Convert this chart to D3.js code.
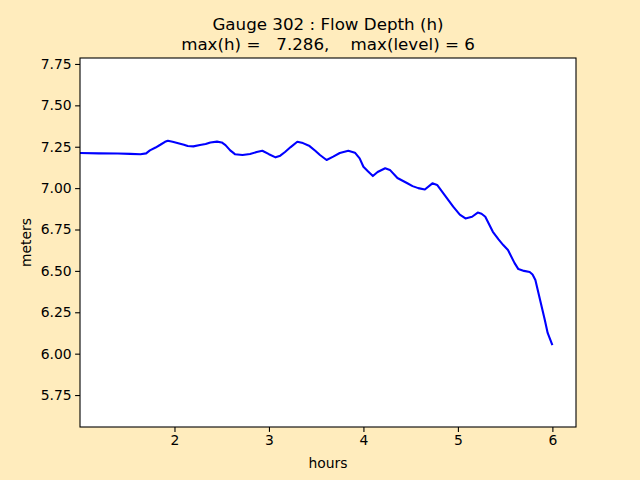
<!DOCTYPE html>
<html>
<head>
<meta charset="utf-8">
<script src="https://cdn.jsdelivr.net/npm/d3@7"></script>
<style>
  html, body { margin: 0; padding: 0; background: #ffecbd; }
  svg { display: block; }
  text { font-family: "DejaVu Sans", sans-serif; fill: #000; }
</style>
</head>
<body>
<svg id="chart" width="640" height="480"></svg>
<script>
// ---- data ----
const hours = [1.00, 1.20, 1.40, 1.53, 1.64, 1.70, 1.74, 1.80, 1.85, 1.90, 1.93, 1.98, 2.04, 2.10, 2.14, 2.20, 2.27, 2.33, 2.38, 2.45, 2.50, 2.54, 2.59, 2.64, 2.72, 2.80, 2.87, 2.93, 3.00, 3.07, 3.12, 3.17, 3.23, 3.30, 3.36, 3.43, 3.49, 3.54, 3.61, 3.68, 3.75, 3.84, 3.91, 3.96, 4.00, 4.05, 4.10, 4.15, 4.23, 4.28, 4.36, 4.46, 4.52, 4.58, 4.65, 4.73, 4.78, 4.86, 4.95, 5.02, 5.08, 5.15, 5.21, 5.25, 5.29, 5.37, 5.43, 5.48, 5.53, 5.60, 5.64, 5.70, 5.76, 5.79, 5.82, 5.87, 5.92, 5.95, 6.00];
const depth = [7.212, 7.210, 7.209, 7.207, 7.205, 7.210, 7.228, 7.245, 7.262, 7.280, 7.286, 7.280, 7.271, 7.262, 7.254, 7.252, 7.260, 7.266, 7.276, 7.281, 7.276, 7.260, 7.228, 7.205, 7.200, 7.206, 7.218, 7.226, 7.205, 7.186, 7.196, 7.218, 7.248, 7.280, 7.272, 7.254, 7.226, 7.200, 7.170, 7.190, 7.212, 7.226, 7.214, 7.180, 7.129, 7.100, 7.073, 7.097, 7.120, 7.110, 7.061, 7.031, 7.012, 7.000, 6.992, 7.029, 7.019, 6.958, 6.888, 6.840, 6.817, 6.827, 6.852, 6.845, 6.827, 6.736, 6.690, 6.656, 6.626, 6.547, 6.511, 6.500, 6.493, 6.478, 6.445, 6.324, 6.203, 6.125, 6.052];
const xTicks = [2, 3, 4, 5, 6];
const yTicks = [5.75, 6.00, 6.25, 6.50, 6.75, 7.00, 7.25, 7.50, 7.75];
const titleLines = ["Gauge 302 : Flow Depth (h)", "max(h) =   7.286,    max(level) = 6"];
const xLabel = "hours";
const yLabel = "meters";

// ---- layout ----
const svg = d3.select("#chart");
const mLeft = 80, mRight = 576, mTop = 58, mBottom = 427;
const x = d3.scaleLinear().domain([1.0, 6.25]).range([mLeft, mRight]);
const y = d3.scaleLinear().domain([5.557, 7.786]).range([mBottom, mTop]);

svg.append("rect").attr("x", 0).attr("y", 0).attr("width", 640).attr("height", 480).attr("fill", "#ffecbd");
svg.append("rect").attr("x", mLeft).attr("y", mTop).attr("width", mRight - mLeft).attr("height", mBottom - mTop).attr("fill", "#ffffff");

// line
const pts = hours.map((h, i) => [h, depth[i]]);
svg.append("path")
  .datum(pts)
  .attr("fill", "none")
  .attr("stroke", "#0000ff")
  .attr("stroke-width", 2.1)
  .attr("stroke-linejoin", "round")
  .attr("d", d3.line().x(d => x(d[0])).y(d => y(d[1])));

// axes
const xAxis = d3.axisBottom(x).tickValues(xTicks).tickFormat(d3.format("d")).tickSize(4.9).tickPadding(3.5);
const yAxis = d3.axisLeft(y).tickValues(yTicks).tickFormat(d3.format(".2f")).tickSize(4.9).tickPadding(3.5);

const gx = svg.append("g").attr("transform", `translate(0,${mBottom})`).call(xAxis);
const gy = svg.append("g").attr("transform", `translate(${mLeft},0)`).call(yAxis);
[gx, gy].forEach(g => {
  g.select(".domain").remove();
  g.selectAll(".tick line").attr("stroke", "#000").attr("stroke-width", 1.1);
  g.selectAll(".tick text").attr("font-size", "13.9px").attr("font-family", "DejaVu Sans, sans-serif").attr("fill", "#000");
});

// frame
svg.append("rect").attr("x", mLeft).attr("y", mTop).attr("width", mRight - mLeft).attr("height", mBottom - mTop)
  .attr("fill", "none").attr("stroke", "#000").attr("stroke-width", 1.1);

// labels
svg.append("text").attr("x", (mLeft + mRight) / 2).attr("y", 468).attr("text-anchor", "middle")
  .attr("font-size", "13.9px").text(xLabel);
svg.append("text").attr("transform", `translate(31,${(mTop + mBottom) / 2}) rotate(-90)`).attr("text-anchor", "middle")
  .attr("font-size", "13.9px").text(yLabel);

// title
titleLines.forEach((t, i) => {
  svg.append("text").attr("x", (mLeft + mRight) / 2).attr("y", 30 + i * 20)
    .attr("text-anchor", "middle").attr("font-size", "16.7px")
    .style("white-space", "pre").attr("xml:space", "preserve").text(t);
});
</script>
</body>
</html>
